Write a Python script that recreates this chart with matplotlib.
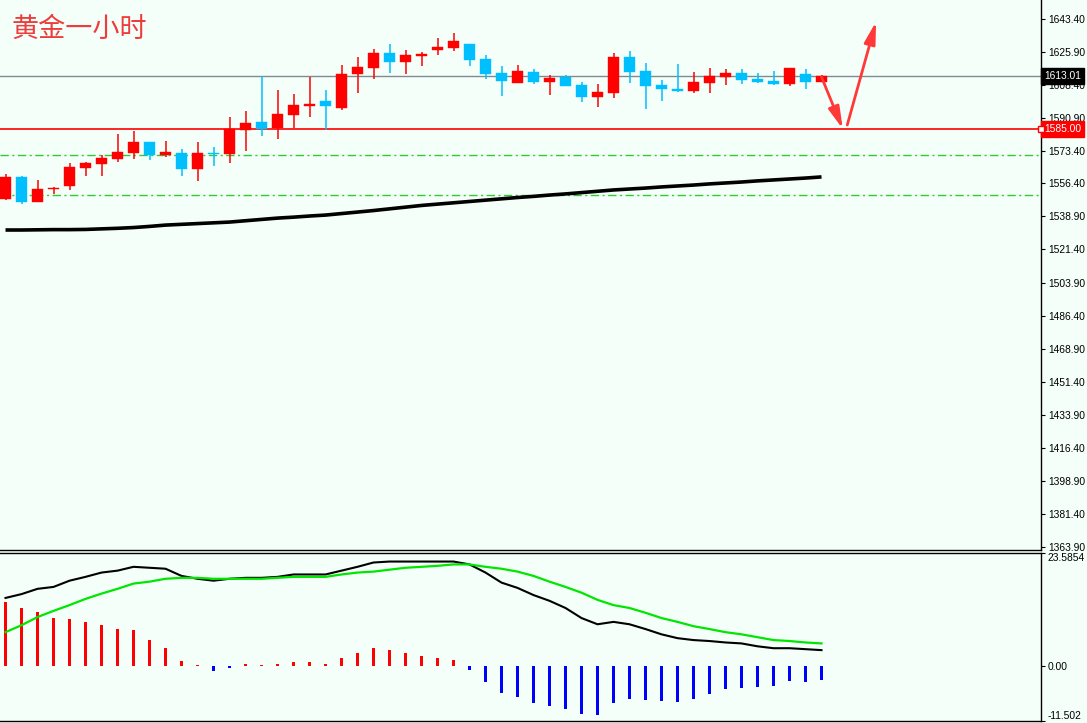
import matplotlib
matplotlib.use("Agg")
import matplotlib.pyplot as plt
from matplotlib.patches import Rectangle
from matplotlib.transforms import blended_transform_factory
import numpy as np

# ---------------- data ----------------
opens = [1548.11,1559.76,1546.52,1553.40,1555.17,1564.52,1566.64,1569.29,1572.46,1578.29,
         1571.40,1572.46,1563.99,1572.46,1571.93,1584.64,1588.87,1585.70,1592.58,1597.34,
         1599.99,1596.28,1614.28,1617.46,1625.40,1620.64,1623.81,1626.99,1628.05,1630.17,
         1622.23,1614.81,1609.52,1615.34,1610.05,1612.70,1608.46,1602.11,1604.23,1623.28,
         1615.87,1608.46,1606.34,1605.28,1609.52,1612.70,1614.81,1611.64,1610.58,1608.99,
         1614.28,1610.05]
closes = [1559.76,1546.52,1553.40,1553.93,1565.05,1567.17,1569.82,1572.99,1578.29,1571.40,
          1572.99,1563.99,1572.46,1571.93,1585.17,1588.34,1585.17,1593.11,1597.87,1598.40,
          1597.34,1614.28,1617.99,1625.40,1620.64,1624.34,1624.87,1628.58,1631.75,1621.70,
          1614.28,1610.58,1615.87,1610.05,1612.17,1607.93,1602.11,1604.76,1623.28,1615.34,
          1607.93,1606.34,1605.28,1610.05,1613.23,1614.81,1611.11,1610.05,1608.99,1617.46,
          1610.05,1613.01]
highs = [1561.34,1560.29,1558.17,1554.46,1567.17,1567.70,1571.40,1582.52,1584.11,1578.29,
         1578.81,1574.58,1578.29,1575.64,1591.52,1594.70,1613.23,1605.81,1603.70,1612.70,
         1605.81,1619.05,1623.28,1627.52,1630.17,1626.99,1625.93,1633.34,1635.99,1630.17,
         1624.34,1618.52,1619.05,1616.93,1613.75,1613.75,1610.05,1608.99,1625.40,1626.46,
         1620.11,1611.11,1619.58,1615.34,1617.46,1616.93,1616.93,1614.81,1615.87,1617.46,
         1616.93,1613.75]
lows = [1547.58,1545.46,1546.52,1550.76,1552.87,1560.29,1560.29,1567.70,1569.29,1568.76,
        1570.35,1560.29,1557.64,1565.58,1567.17,1573.52,1581.46,1579.87,1585.70,1591.52,
        1584.64,1595.23,1604.23,1611.64,1614.81,1614.28,1618.52,1624.34,1626.46,1618.52,
        1611.64,1602.64,1609.52,1608.99,1603.17,1607.93,1599.46,1596.81,1601.58,1609.52,
        1595.76,1599.99,1604.76,1604.23,1604.23,1608.46,1608.99,1609.52,1608.46,1607.93,
        1606.34,1610.05]
ma_line = [1531.7,1531.7,1531.8,1531.9,1531.9,1532.0,1532.3,1532.6,1533.0,1533.6,
           1534.3,1534.7,1535.1,1535.5,1535.9,1536.6,1537.3,1538.0,1538.5,1539.1,
           1539.6,1540.4,1541.2,1542.0,1542.9,1543.8,1544.7,1545.4,1546.1,1546.8,
           1547.5,1548.2,1548.9,1549.5,1550.2,1550.8,1551.5,1552.2,1552.9,1553.4,
           1553.9,1554.5,1555.0,1555.5,1556.1,1556.6,1557.1,1557.7,1558.2,1558.7,
           1559.2,1559.8]

macd_hist = [13.4,12.2,11.3,10.1,9.9,9.2,8.6,7.8,7.4,5.5,
             3.8,1.05,0.2,-1.05,-0.4,0.4,0.2,0.4,0.8,0.8,
             0.4,1.7,2.7,3.8,3.4,2.7,2.1,1.7,1.26,-0.84,
             -3.4,-5.7,-6.5,-7.8,-8.4,-9.0,-10.1,-10.3,-7.8,-6.9,
             -7.1,-7.35,-7.6,-6.9,-5.9,-4.8,-4.6,-4.4,-4.2,-3.15,
             -3.4,-2.9]
macd_main = [14.2,15.0,16.1,16.5,17.8,18.6,19.5,19.9,20.7,20.5,
             20.3,18.8,18.2,17.8,18.2,18.4,18.4,18.6,19.1,19.1,
             19.1,19.9,20.7,21.6,21.8,21.8,21.8,21.8,21.8,21.2,
             19.5,17.4,16.3,14.8,13.6,12.1,10.0,8.7,9.2,8.7,
             7.7,6.6,5.8,5.4,5.2,4.9,4.7,4.1,3.7,3.7,
             3.5,3.3]
macd_signal = [7.05,8.5,10.2,11.5,12.7,14.0,15.1,16.1,17.2,17.6,
               18.2,18.4,18.4,18.2,18.2,18.2,18.2,18.4,18.6,18.6,
               18.6,19.1,19.5,19.7,20.1,20.5,20.7,20.9,21.2,21.2,
               20.7,20.3,19.7,18.8,17.6,16.5,15.3,13.8,12.7,12.1,
               11.1,10.0,9.2,8.3,7.7,7.05,6.6,6.0,5.4,5.2,
               4.9,4.7]

price_ticks = [1643.40,1625.90,1608.40,1590.90,1573.40,1556.40,1538.90,1521.40,1503.90,
               1486.40,1468.90,1451.40,1433.90,1416.40,1398.90,1381.40,1363.90]
current_price = 1613.01
support_level = 1585.00
dash_levels = [1571.4, 1550.2]
macd_range = (-11.502, 23.5854)
title = "黄金一小时"
# arrow path (x index, price): last bar -> support -> target
arrow_down = [(51.0, 1612.7), (52.33, 1585.2)]
arrow_up = [(52.61, 1587.3), (54.41, 1642.0)]

# ---------------- style ----------------
BG = "#F5FFFA"
UP = "#FF0000"
DOWN = "#00BFFF"
W, H = 1087, 723
fig = plt.figure(figsize=(W/100, H/100), dpi=100, facecolor=BG)

axr = 1041/W
ax = fig.add_axes([0, 1-550/H, axr, 550/H], facecolor=BG)
ax2 = fig.add_axes([0, 1-721/H, axr, 168/H], facecolor=BG)

x = np.arange(len(opens))
xlim = (-5.5/16, (1041-5.5)/16)

# candles
bw = 0.69
for i in x:
    o, c, h, l = opens[i], closes[i], highs[i], lows[i]
    col = UP if c >= o else DOWN
    ax.vlines(i, l, h, color=col, lw=1.1, zorder=3)
    lo, hi = min(o, c), max(o, c)
    ht = max(hi - lo, 0.55)
    ax.add_patch(Rectangle((i - bw/2, lo), bw, ht, facecolor=col, edgecolor=col, lw=0.3, zorder=4))

ax.plot(x, ma_line, color="black", lw=2.6, zorder=5, solid_capstyle="butt")

ax.axhline(current_price, color="#7F8B92", lw=1.0, zorder=2)
ax.axhline(support_level, color="#FF0000", lw=1.2, zorder=2)
for lv in dash_levels:
    ax.axhline(lv, color="#32C832", lw=1.0, ls=(0, (6, 2.5, 1.5, 2.5)), zorder=1)

arrow_col = "#FF3838"
for (p0, p1) in (arrow_down, arrow_up):
    ax.annotate("", xy=p1, xytext=p0,
                arrowprops=dict(arrowstyle="-|>,head_length=1.1,head_width=0.28",
                                color=arrow_col, lw=2.0, mutation_scale=12,
                                shrinkA=0, shrinkB=0), zorder=6)

ax.set_xlim(*xlim)
ax.set_ylim(1362.3, 1653.46)
ax.set_xticks([])
ax.yaxis.tick_right()
ax.set_yticks(price_ticks)
ax.set_yticklabels([f"{v:.2f}" for v in price_ticks])
ax.tick_params(axis="y", direction="out", length=3, width=0.8, pad=2,
               labelsize=7.4, colors="black")
for lab in ax.get_yticklabels():
    lab.set_fontfamily("Liberation Sans")
for s in ("left", "top"):
    ax.spines[s].set_visible(False)
ax.spines["right"].set_linewidth(1.0)
ax.spines["bottom"].set_linewidth(1.0)

trans = blended_transform_factory(ax.transAxes, ax.transData)
ax.text(1.003, current_price, f"{current_price:.2f}", transform=trans, color="white",
        fontsize=7.4, family="Liberation Sans", va="center", ha="left", zorder=10,
        bbox=dict(boxstyle="square,pad=0.3", fc="black", ec="black"))
ax.text(1.003, support_level, f"{support_level:.2f}", transform=trans, color="white",
        fontsize=7.4, family="Liberation Sans", va="center", ha="left", zorder=10,
        bbox=dict(boxstyle="square,pad=0.3", fc="#FF0000", ec="#FF0000"))
ax.plot([1.0], [support_level], transform=trans, marker="s", ms=4, mfc=BG,
        mec="#FF0000", mew=1.0, clip_on=False, zorder=11)

fig.text(12/W, 1-29/H, title, color="#EE3B3B", fontsize=19.5,
         family=["Noto Sans CJK SC", "DejaVu Sans"], va="center", ha="left")

# ---------------- MACD ----------------
hist_cols = [UP if v >= 0 else "#0000FF" for v in macd_hist]
ax2.bar(x, macd_hist, width=0.19, color=hist_cols, zorder=2)
ax2.plot(x, macd_main, color="black", lw=1.5, zorder=3)
ax2.plot(x, macd_signal, color="#00E600", lw=1.6, zorder=3)
ax2.set_xlim(*xlim)
ax2.set_ylim(*macd_range)
ax2.set_xticks([])
ax2.yaxis.tick_right()
ax2.set_yticks([macd_range[1], 0.0, macd_range[0]])
ax2.set_yticklabels(["23.5854", "0.00", "-11.502"])
ax2.tick_params(axis="y", direction="out", length=3, width=0.8, pad=2,
                labelsize=7.4, colors="black")
labs = ax2.get_yticklabels()
for lab in labs:
    lab.set_fontfamily("Liberation Sans")
labs[0].set_va("top")
labs[2].set_va("bottom")
ax2.spines["left"].set_visible(False)
for s in ("top", "right", "bottom"):
    ax2.spines[s].set_linewidth(1.0)

fig.savefig("out.png", dpi=100, facecolor=BG)
